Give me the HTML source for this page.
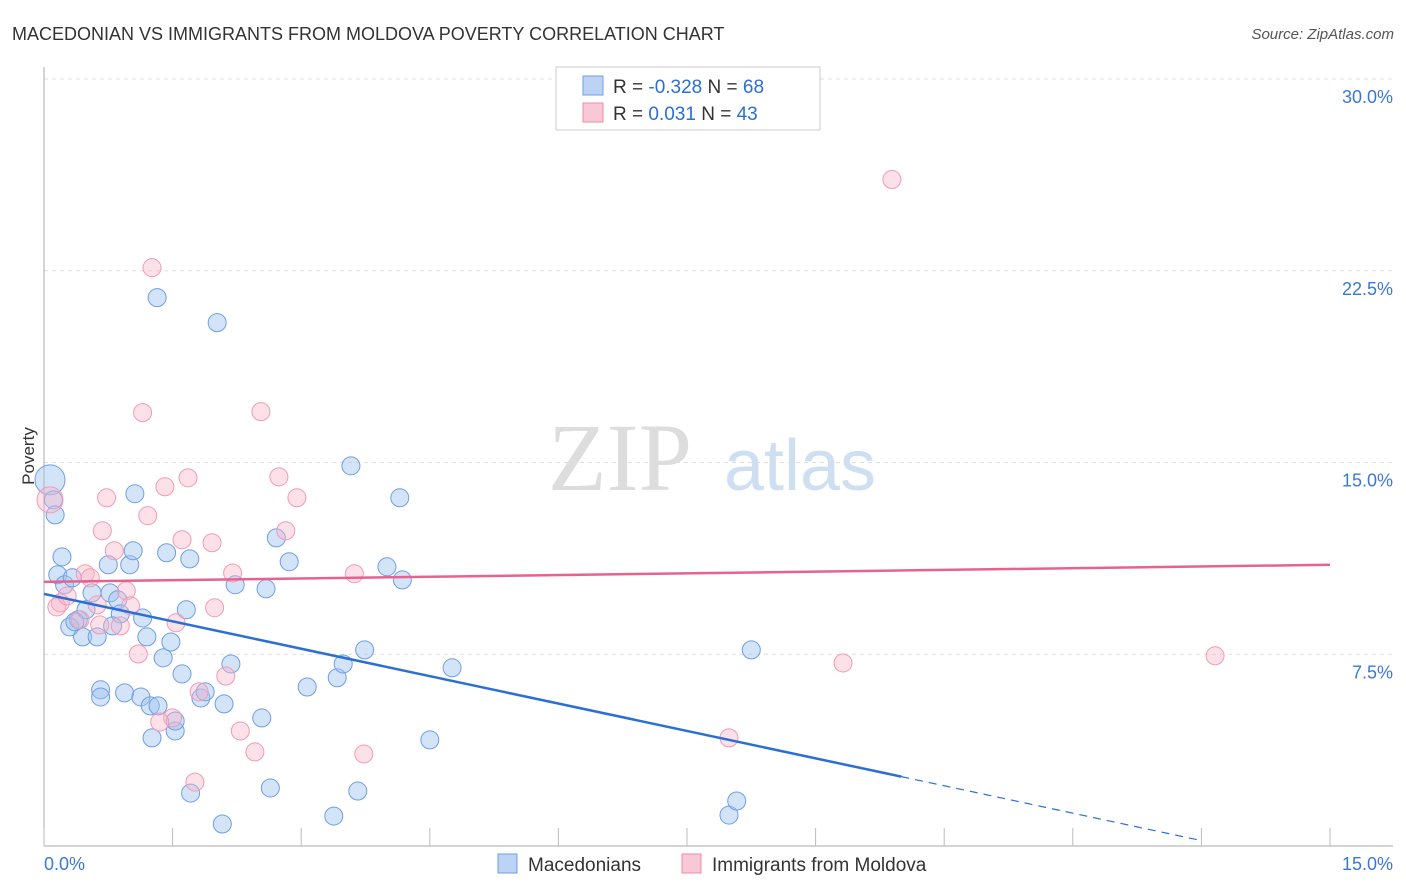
<!DOCTYPE html>
<html><head><meta charset="utf-8"><style>
body{margin:0;background:#fff;font-family:"Liberation Sans",sans-serif}
svg{display:block}
</style></head><body>
<svg id="chart" width="1406" height="892">
<text x="12" y="40" font-size="18" fill="#333">MACEDONIAN VS IMMIGRANTS FROM MOLDOVA POVERTY CORRELATION CHART</text>
<text x="1394" y="39" font-size="15" fill="#555" font-style="italic" text-anchor="end">Source: ZipAtlas.com</text>
<text x="620" y="490" font-size="96" fill="#ddd" font-family="Liberation Serif,serif" text-anchor="middle">ZIP</text>
<text x="800" y="490" font-size="72" fill="#cfdff2" text-anchor="middle">atlas</text>
<g id="grid"></g><g id="axes"></g><g id="pts"></g><g id="lines"></g>
<text transform="translate(34,456) rotate(-90)" font-size="17" fill="#333" text-anchor="middle">Poverty</text>
<g>
<rect x="556" y="67" width="264" height="63" fill="#fff" stroke="#ccc"/>
<rect x="583" y="76" width="20" height="19" fill="#bcd3f5" stroke="#6e9ee6"/>
<rect x="583" y="103" width="20" height="19" fill="#f9c8d6" stroke="#f08aa8"/>
<text x="613" y="93" font-size="19" fill="#333">R = <tspan fill="#2a6fd6">-0.328</tspan>   N = <tspan fill="#2a6fd6">68</tspan></text>
<text x="613" y="120" font-size="19" fill="#333">R =   <tspan fill="#2a6fd6">0.031</tspan>   N = <tspan fill="#2a6fd6">43</tspan></text>
</g>
<g>
<rect x="498" y="854" width="19" height="19" fill="#bcd3f5" stroke="#6e9ee6"/>
<text x="528" y="871" font-size="19" fill="#333">Macedonians</text>
<rect x="682" y="854" width="19" height="19" fill="#f9c8d6" stroke="#f08aa8"/>
<text x="712" y="871" font-size="19" fill="#333">Immigrants from Moldova</text>
</g>
</svg>
<script>
const yTicks=[7.5,15,22.5,30];
const yTickLabels=["7.5%","15.0%","22.5%","30.0%"];
const xTicks=[0,1.5,3,4.5,6,7.5,9,10.5,12,13.5,15];
const blueX=[.07,.11,.13,.21,.16,.24,.33,.40,.30,.56,.49,.45,.62,.36,.75,.77,.86,.89,.80,1.00,1.04,1.06,1.15,1.20,.66,.66,.94,1.13,1.24,1.33,1.26,1.39,1.43,1.48,1.53,1.61,1.66,1.70,1.53,1.83,1.88,1.71,1.32,2.02,2.08,2.10,2.18,2.23,2.54,2.59,2.64,2.71,2.86,3.07,3.38,3.42,3.49,3.66,3.74,3.58,4.00,4.18,4.15,4.50,4.76,8.25,7.99,8.08];
const blueY=[14.32,13.54,12.95,11.31,10.61,10.22,10.49,8.85,8.57,9.90,9.24,8.18,8.18,8.77,11.0,9.90,9.63,9.08,8.61,11.0,11.55,13.78,8.92,8.18,6.11,5.83,5.99,5.83,5.48,5.48,4.23,7.36,11.47,7.98,4.50,6.73,9.24,11.23,4.89,5.79,6.03,2.07,21.45,20.47,0.86,5.56,7.12,10.22,5.01,10.06,2.27,12.05,11.12,6.22,1.17,6.58,7.12,2.15,7.67,14.87,10.92,10.41,13.62,4.15,6.97,7.67,1.21,1.76];
const pinkX=[1.26,9.89,1.15,2.53,.73,1.41,1.68,2.74,2.95,1.21,.68,2.82,1.61,1.96,.82,.48,.54,2.20,3.62,.96,.19,.15,.62,1.01,1.99,.89,1.54,1.10,9.32,13.66,2.12,1.81,1.50,1.35,2.29,2.46,3.73,7.99,1.76,.07,.42,.27,.65];
const pinkY=[22.62,26.07,16.95,16.99,13.62,14.05,14.40,14.44,13.62,12.92,12.33,12.33,11.98,11.86,11.55,10.65,10.49,10.68,10.65,9.98,9.51,9.35,9.43,9.39,9.32,8.61,8.73,7.51,7.16,7.44,6.65,6.03,5.01,4.85,4.50,3.68,3.60,4.23,2.50,13.54,8.85,9.78,8.65];
const blueTrend=[9.86,-0.86];
const pinkTrend=[10.33,11.0];
const X=v=>44+v/15*1286, Y=v=>846-v/30*767;
const NS="http://www.w3.org/2000/svg";
function mk(p,t,a){const e=document.createElementNS(NS,t);for(const k in a)e.setAttribute(k,a[k]);p.appendChild(e);return e;}
const grid=document.getElementById('grid'),axes=document.getElementById('axes'),pts=document.getElementById('pts'),lines=document.getElementById('lines');
yTicks.forEach((t,i)=>{
 const l=mk(grid,'line',{x1:44,x2:1393,y1:Y(t),y2:Y(t),stroke:'#ddd','stroke-dasharray':'4,4'});
 
 
 const tx=mk(axes,'text',{x:1393,y:Y(t)+24,'font-size':18,fill:'#3a78d8','text-anchor':'end'});
 tx.textContent=yTickLabels[i];
 
 
});
const ax=mk(axes,'line',{x1:44,x2:44,y1:67,y2:846,stroke:'#aaa'});


const bx=mk(axes,'line',{x1:44,x2:1393,y1:846,y2:846,stroke:'#aaa'});


xTicks.forEach(t=>{const l=mk(axes,'line',{x1:X(t),x2:X(t),y1:828,y2:846,stroke:'#bbb'});
 
 });
const x0=mk(axes,'text',{x:44,y:870,'font-size':18,fill:'#3a78d8'});x0.textContent='0.0%';


const x1=mk(axes,'text',{x:1393,y:870,'font-size':18,fill:'#3a78d8','text-anchor':'end'});x1.textContent='15.0%';


blueX.forEach((v,i)=>{const c=mk(pts,'circle',{cx:X(v),cy:Y(blueY[i]),r:i==0?15:9,fill:'rgba(160,195,240,0.45)',stroke:'#6e9ee6','stroke-width':1});
 
 });
pinkX.forEach((v,i)=>{const c=mk(pts,'circle',{cx:X(v),cy:Y(pinkY[i]),r:i==39?13:9,fill:'rgba(248,180,200,0.4)',stroke:'#f29ab5','stroke-width':1});
 
 });
const by=x=>blueTrend[0]+(blueTrend[1]-blueTrend[0])*x/15;
const bl=mk(lines,'line',{x1:X(0),y1:Y(by(0)),x2:X(10),y2:Y(by(10)),stroke:'#2a6fd6','stroke-width':2.5});


const bd=mk(lines,'line',{x1:X(10),y1:Y(by(10)),x2:X(13.5),y2:Y(by(13.5)),stroke:'#2a6fd6','stroke-width':1.2,'stroke-dasharray':'8,6'});


const pl=mk(lines,'line',{x1:X(0),y1:Y(pinkTrend[0]),x2:X(15),y2:Y(pinkTrend[1]),stroke:'#e8628f','stroke-width':2.5});


</script>
</body></html>
